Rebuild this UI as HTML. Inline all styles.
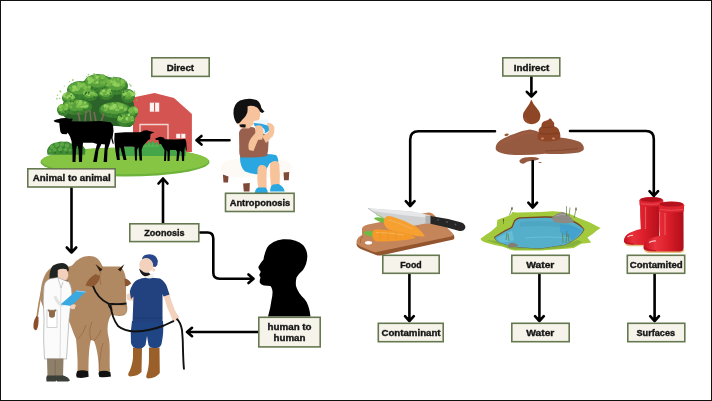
<!DOCTYPE html>
<html><head><meta charset="utf-8">
<style>
html,body{margin:0;padding:0;background:#fff;}
body{width:712px;height:401px;overflow:hidden;}
svg{display:block;will-change:transform;}
.bx{fill:#f6f3ea;stroke:#65784f;stroke-width:1.6;}
.lb{font-family:"Liberation Sans",sans-serif;font-weight:bold;font-size:9.9px;fill:#161616;stroke:#161616;stroke-width:0.4px;}
.ar{fill:none;stroke:#000;stroke-width:2.6;stroke-linecap:round;stroke-linejoin:round;}
</style></head><body>
<svg width="712" height="401" viewBox="0 0 712 401">
<rect x="0.5" y="0.5" width="711" height="400" fill="#fff" stroke="#111" stroke-width="1"/>

<!-- ILLUSTRATIONS -->
<g id="ill">
<g id="farm">
  <!-- barn -->
  <path d="M133 152V97.6L154.5 93.1L174 98L191.9 114.1V152Z" fill="#d45451"/>
  
  <rect x="149.8" y="102.7" width="9.4" height="9" fill="#fbf3f0"/>
  <rect x="154" y="102.7" width="1.1" height="9" fill="#d45451"/>
  <path d="M140 140V124.5H168V140" fill="none" stroke="#f2d6cf" stroke-width="1.3"/>
  <rect x="176.2" y="133.8" width="9.2" height="4.5" fill="#fbf3f0"/>
  <rect x="180.3" y="133.8" width="1" height="4.5" fill="#d45451"/>
  <!-- ground -->
  <ellipse cx="125" cy="162" rx="84.5" ry="14.5" fill="#6db23a"/>
  <ellipse cx="125" cy="161" rx="83.5" ry="13.2" fill="#86c443"/>
  <!-- bush left -->
  <path d="M47.5 154.8Q46 149 49.5 146Q52 142.5 57 142.5Q60 140.8 64 141.8Q68 140.5 71 143.5Q76 143 80 145Q84.5 146 85.5 150L85 154.8Z" fill="#3f8a34"/>
  <g fill="#5aa544">
    <circle cx="52" cy="147" r="2.2"/><circle cx="57" cy="145" r="2.4"/><circle cx="62" cy="144.5" r="2.2"/><circle cx="67" cy="145.5" r="2.3"/>
    <circle cx="54.5" cy="150" r="2"/><circle cx="60" cy="149" r="2.2"/><circle cx="65.5" cy="149.5" r="2"/><circle cx="70" cy="150" r="1.6"/><circle cx="50" cy="151" r="1.6"/>
  </g>
  <g fill="#2f6d29"><circle cx="55" cy="152.5" r="1"/><circle cx="61" cy="152" r="1.1"/><circle cx="67" cy="152.5" r="1"/><circle cx="58" cy="147.5" r="0.8"/><circle cx="64" cy="147" r="0.8"/></g>
  <!-- back grass strip -->
  <path d="M116 156V148Q124 146.5 132 147L138 146L141 143L143 145.5L145 141.5L147 144L149 140.8L151 143.5L153 140.5L155 143.5L157 141.5L158.5 145L161 143.5L163 146L172 146.5L186 146V156Z" fill="#44a549"/>
  <path d="M141 147L145 142.5L147 146L149 142L151 146L153 142L155 146L157 143L159 147Z" fill="#58b455" opacity="0.8"/>
  <!-- tree shadow under canopy -->
  <path d="M70 122L72 110L128 110L129 126L112 126Z" fill="#3f6b3a"/>
  <!-- tree canopy -->
<path d="M62 113Q61 104 67 96Q73 87 82 82Q92 76 100 76Q112 76 120 82Q129 89 132 98Q136 108 135 119Q134 126 129 127L116 126L103 122L75 121Q64 120 62 113Z" fill="#2c6328"/>
<ellipse cx="80" cy="90" rx="13" ry="9" fill="#3c8430"/>
<ellipse cx="98" cy="83" rx="14" ry="9" fill="#3c8430"/>
<ellipse cx="116" cy="86" rx="12" ry="9" fill="#3c8430"/>
<ellipse cx="69" cy="98" rx="7" ry="6" fill="#3c8430"/>
<ellipse cx="128" cy="96" rx="7" ry="7" fill="#3c8430"/>
<ellipse cx="90" cy="95" rx="8" ry="6" fill="#3c8430"/>
<ellipse cx="106" cy="94" rx="8" ry="6" fill="#3c8430"/>
<ellipse cx="77" cy="107" rx="15" ry="8" fill="#3c8430"/>
<ellipse cx="63" cy="110" rx="6" ry="6" fill="#3c8430"/>
<ellipse cx="115" cy="110" rx="16" ry="8" fill="#3c8430"/>
<ellipse cx="126" cy="120" rx="9" ry="7" fill="#3c8430"/>
<ellipse cx="133" cy="112" rx="5" ry="6" fill="#3c8430"/>
<ellipse cx="79.3" cy="88.0" rx="11.0" ry="6.5" fill="#58a03b"/>
<ellipse cx="97.3" cy="81.0" rx="11.9" ry="6.5" fill="#58a03b"/>
<ellipse cx="115.4" cy="84.0" rx="10.2" ry="6.5" fill="#58a03b"/>
<ellipse cx="68.7" cy="96.7" rx="6.0" ry="4.3" fill="#58a03b"/>
<ellipse cx="127.7" cy="94.5" rx="6.0" ry="5.0" fill="#58a03b"/>
<ellipse cx="89.6" cy="93.7" rx="6.8" ry="4.3" fill="#58a03b"/>
<ellipse cx="105.6" cy="92.7" rx="6.8" ry="4.3" fill="#58a03b"/>
<ellipse cx="76.2" cy="105.2" rx="12.8" ry="5.8" fill="#58a03b"/>
<ellipse cx="62.7" cy="108.7" rx="5.1" ry="4.3" fill="#58a03b"/>
<ellipse cx="114.2" cy="108.2" rx="13.6" ry="5.8" fill="#58a03b"/>
<ellipse cx="125.5" cy="118.5" rx="7.6" ry="5.0" fill="#58a03b"/>
<ellipse cx="132.8" cy="110.7" rx="4.2" ry="4.3" fill="#58a03b"/>
<circle cx="78.8" cy="84.7" r="2.0" fill="#6aae42"/>
<circle cx="78.6" cy="83.4" r="1.2" fill="#95d462"/>
<circle cx="79.4" cy="84.4" r="1.2" fill="#6aae42"/>
<circle cx="78.2" cy="88.2" r="1.9" fill="#7fc24f"/>
<circle cx="81.9" cy="85.7" r="1.5" fill="#95d462"/>
<circle cx="83.7" cy="84.9" r="1.9" fill="#7fc24f"/>
<circle cx="75.5" cy="89.4" r="1.3" fill="#7fc24f"/>
<circle cx="84.6" cy="87.4" r="1.7" fill="#8ccd58"/>
<circle cx="80.5" cy="84.2" r="1.5" fill="#7fc24f"/>
<circle cx="79.3" cy="86.2" r="2.1" fill="#7fc24f"/>
<circle cx="83.5" cy="86.8" r="1.3" fill="#74b848"/>
<circle cx="72.2" cy="89.5" r="1.1" fill="#7fc24f"/>
<circle cx="85.7" cy="87.9" r="2.1" fill="#7fc24f"/>
<circle cx="72.2" cy="85.7" r="1.1" fill="#6aae42"/>
<circle cx="86.5" cy="89.7" r="1.1" fill="#8ccd58"/>
<circle cx="84.1" cy="87.6" r="1.1" fill="#74b848"/>
<circle cx="73.3" cy="89.8" r="2.0" fill="#8ccd58"/>
<circle cx="77.6" cy="88.4" r="1.1" fill="#6aae42"/>
<circle cx="73.4" cy="87.1" r="1.5" fill="#8ccd58"/>
<circle cx="89.1" cy="89.7" r="1.5" fill="#6aae42"/>
<circle cx="73.7" cy="88.3" r="1.2" fill="#74b848"/>
<circle cx="89.3" cy="87.1" r="1.7" fill="#7fc24f"/>
<circle cx="74.8" cy="87.2" r="1.9" fill="#95d462"/>
<circle cx="70.2" cy="87.8" r="1.2" fill="#74b848"/>
<circle cx="71.9" cy="89.8" r="1.9" fill="#6aae42"/>
<circle cx="77.0" cy="89.5" r="1.6" fill="#8ccd58"/>
<circle cx="73.7" cy="89.8" r="1.7" fill="#8ccd58"/>
<circle cx="87.2" cy="89.4" r="1.6" fill="#6aae42"/>
<circle cx="94.3" cy="81.5" r="2.0" fill="#95d462"/>
<circle cx="94.5" cy="80.8" r="1.8" fill="#95d462"/>
<circle cx="89.1" cy="78.9" r="2.0" fill="#95d462"/>
<circle cx="95.6" cy="82.6" r="1.1" fill="#95d462"/>
<circle cx="103.4" cy="82.6" r="1.8" fill="#74b848"/>
<circle cx="95.4" cy="76.4" r="1.5" fill="#95d462"/>
<circle cx="89.9" cy="79.8" r="1.1" fill="#8ccd58"/>
<circle cx="97.4" cy="77.2" r="1.7" fill="#7fc24f"/>
<circle cx="91.2" cy="77.7" r="1.2" fill="#7fc24f"/>
<circle cx="91.0" cy="82.0" r="1.3" fill="#7fc24f"/>
<circle cx="92.2" cy="80.7" r="1.6" fill="#8ccd58"/>
<circle cx="94.0" cy="82.2" r="1.5" fill="#74b848"/>
<circle cx="102.4" cy="77.7" r="1.6" fill="#8ccd58"/>
<circle cx="101.0" cy="76.4" r="1.5" fill="#74b848"/>
<circle cx="104.5" cy="77.3" r="1.0" fill="#7fc24f"/>
<circle cx="97.5" cy="76.9" r="1.4" fill="#7fc24f"/>
<circle cx="90.0" cy="81.8" r="1.8" fill="#8ccd58"/>
<circle cx="106.5" cy="78.8" r="1.4" fill="#6aae42"/>
<circle cx="108.0" cy="80.9" r="1.5" fill="#7fc24f"/>
<circle cx="105.7" cy="80.7" r="1.7" fill="#6aae42"/>
<circle cx="97.5" cy="82.3" r="1.1" fill="#7fc24f"/>
<circle cx="102.7" cy="76.5" r="2.0" fill="#74b848"/>
<circle cx="94.7" cy="77.2" r="1.6" fill="#6aae42"/>
<circle cx="97.0" cy="77.7" r="1.6" fill="#95d462"/>
<circle cx="89.4" cy="82.5" r="1.5" fill="#8ccd58"/>
<circle cx="101.7" cy="82.7" r="1.9" fill="#6aae42"/>
<circle cx="97.2" cy="82.4" r="1.3" fill="#95d462"/>
<circle cx="94.3" cy="81.2" r="2.0" fill="#6aae42"/>
<circle cx="98.0" cy="79.5" r="1.4" fill="#74b848"/>
<circle cx="92.0" cy="80.2" r="1.9" fill="#8ccd58"/>
<circle cx="121.5" cy="84.4" r="1.6" fill="#74b848"/>
<circle cx="113.2" cy="84.4" r="1.4" fill="#7fc24f"/>
<circle cx="121.8" cy="80.5" r="1.3" fill="#8ccd58"/>
<circle cx="109.8" cy="84.3" r="2.0" fill="#6aae42"/>
<circle cx="113.5" cy="81.2" r="1.7" fill="#95d462"/>
<circle cx="115.6" cy="84.1" r="1.0" fill="#95d462"/>
<circle cx="108.0" cy="85.2" r="1.6" fill="#74b848"/>
<circle cx="119.3" cy="81.2" r="1.7" fill="#6aae42"/>
<circle cx="115.8" cy="84.9" r="1.9" fill="#8ccd58"/>
<circle cx="122.6" cy="81.9" r="2.1" fill="#7fc24f"/>
<circle cx="114.7" cy="80.4" r="1.7" fill="#74b848"/>
<circle cx="123.9" cy="85.2" r="1.2" fill="#6aae42"/>
<circle cx="110.4" cy="81.6" r="1.8" fill="#95d462"/>
<circle cx="118.5" cy="83.6" r="1.3" fill="#74b848"/>
<circle cx="117.2" cy="79.0" r="1.6" fill="#8ccd58"/>
<circle cx="113.2" cy="79.9" r="2.0" fill="#7fc24f"/>
<circle cx="113.5" cy="79.5" r="1.4" fill="#6aae42"/>
<circle cx="114.9" cy="80.4" r="2.0" fill="#6aae42"/>
<circle cx="117.2" cy="80.3" r="1.6" fill="#74b848"/>
<circle cx="115.1" cy="80.2" r="1.2" fill="#7fc24f"/>
<circle cx="108.9" cy="81.8" r="2.1" fill="#74b848"/>
<circle cx="117.0" cy="79.6" r="1.4" fill="#7fc24f"/>
<circle cx="114.7" cy="84.2" r="1.5" fill="#95d462"/>
<circle cx="114.8" cy="82.3" r="2.0" fill="#8ccd58"/>
<circle cx="118.0" cy="85.0" r="1.9" fill="#8ccd58"/>
<circle cx="116.8" cy="80.1" r="2.0" fill="#6aae42"/>
<circle cx="65.4" cy="96.4" r="1.8" fill="#6aae42"/>
<circle cx="72.9" cy="97.4" r="2.0" fill="#7fc24f"/>
<circle cx="71.7" cy="95.8" r="1.6" fill="#95d462"/>
<circle cx="70.7" cy="94.9" r="1.9" fill="#95d462"/>
<circle cx="65.8" cy="95.2" r="2.1" fill="#95d462"/>
<circle cx="64.9" cy="95.3" r="2.1" fill="#95d462"/>
<circle cx="66.4" cy="95.4" r="1.5" fill="#7fc24f"/>
<circle cx="69.0" cy="94.3" r="1.0" fill="#7fc24f"/>
<circle cx="69.2" cy="95.0" r="1.9" fill="#95d462"/>
<circle cx="67.4" cy="97.5" r="1.2" fill="#95d462"/>
<circle cx="68.3" cy="93.4" r="1.9" fill="#6aae42"/>
<circle cx="66.4" cy="95.5" r="1.1" fill="#6aae42"/>
<circle cx="133.2" cy="94.3" r="2.0" fill="#95d462"/>
<circle cx="126.7" cy="93.9" r="1.7" fill="#74b848"/>
<circle cx="123.5" cy="94.0" r="1.0" fill="#8ccd58"/>
<circle cx="127.5" cy="95.7" r="1.3" fill="#74b848"/>
<circle cx="125.2" cy="93.3" r="1.5" fill="#95d462"/>
<circle cx="124.3" cy="94.5" r="1.3" fill="#8ccd58"/>
<circle cx="131.1" cy="91.8" r="1.0" fill="#6aae42"/>
<circle cx="131.7" cy="93.7" r="1.6" fill="#95d462"/>
<circle cx="129.7" cy="92.3" r="1.9" fill="#95d462"/>
<circle cx="128.6" cy="94.0" r="2.0" fill="#74b848"/>
<circle cx="131.0" cy="95.1" r="1.3" fill="#8ccd58"/>
<circle cx="123.7" cy="92.5" r="2.0" fill="#8ccd58"/>
<circle cx="129.9" cy="95.3" r="1.1" fill="#6aae42"/>
<circle cx="84.4" cy="93.7" r="1.5" fill="#8ccd58"/>
<circle cx="85.9" cy="92.8" r="1.9" fill="#7fc24f"/>
<circle cx="85.7" cy="92.7" r="2.0" fill="#74b848"/>
<circle cx="85.7" cy="93.8" r="1.8" fill="#95d462"/>
<circle cx="95.8" cy="95.0" r="1.9" fill="#6aae42"/>
<circle cx="88.8" cy="94.7" r="1.6" fill="#95d462"/>
<circle cx="94.2" cy="94.0" r="1.2" fill="#7fc24f"/>
<circle cx="85.3" cy="92.4" r="2.1" fill="#7fc24f"/>
<circle cx="90.6" cy="93.3" r="1.7" fill="#7fc24f"/>
<circle cx="92.7" cy="93.2" r="1.5" fill="#95d462"/>
<circle cx="88.7" cy="93.0" r="1.4" fill="#7fc24f"/>
<circle cx="92.4" cy="94.0" r="1.5" fill="#74b848"/>
<circle cx="89.2" cy="93.0" r="1.2" fill="#95d462"/>
<circle cx="108.9" cy="92.3" r="1.1" fill="#6aae42"/>
<circle cx="106.6" cy="92.0" r="1.6" fill="#74b848"/>
<circle cx="108.7" cy="92.6" r="2.0" fill="#8ccd58"/>
<circle cx="109.4" cy="92.3" r="2.0" fill="#95d462"/>
<circle cx="109.2" cy="90.6" r="1.8" fill="#6aae42"/>
<circle cx="103.8" cy="92.8" r="1.9" fill="#74b848"/>
<circle cx="105.9" cy="93.5" r="1.4" fill="#95d462"/>
<circle cx="102.7" cy="93.6" r="2.1" fill="#74b848"/>
<circle cx="103.5" cy="90.6" r="1.6" fill="#95d462"/>
<circle cx="101.5" cy="93.2" r="1.5" fill="#8ccd58"/>
<circle cx="109.3" cy="90.6" r="2.1" fill="#7fc24f"/>
<circle cx="104.0" cy="93.4" r="1.3" fill="#6aae42"/>
<circle cx="105.6" cy="93.0" r="1.2" fill="#6aae42"/>
<circle cx="70.9" cy="106.9" r="1.3" fill="#74b848"/>
<circle cx="78.3" cy="102.5" r="2.1" fill="#95d462"/>
<circle cx="80.4" cy="106.1" r="1.5" fill="#7fc24f"/>
<circle cx="78.5" cy="101.8" r="2.1" fill="#6aae42"/>
<circle cx="81.7" cy="106.4" r="1.5" fill="#8ccd58"/>
<circle cx="84.9" cy="104.9" r="1.7" fill="#6aae42"/>
<circle cx="84.7" cy="106.3" r="1.6" fill="#95d462"/>
<circle cx="72.1" cy="103.1" r="1.5" fill="#74b848"/>
<circle cx="78.2" cy="103.7" r="1.8" fill="#74b848"/>
<circle cx="66.5" cy="106.5" r="1.6" fill="#8ccd58"/>
<circle cx="74.2" cy="101.9" r="1.1" fill="#74b848"/>
<circle cx="78.9" cy="106.0" r="2.1" fill="#74b848"/>
<circle cx="65.9" cy="105.6" r="1.5" fill="#6aae42"/>
<circle cx="69.6" cy="103.1" r="1.0" fill="#7fc24f"/>
<circle cx="87.0" cy="105.9" r="1.5" fill="#8ccd58"/>
<circle cx="78.3" cy="104.9" r="1.7" fill="#6aae42"/>
<circle cx="66.6" cy="104.8" r="1.4" fill="#8ccd58"/>
<circle cx="69.6" cy="105.4" r="1.7" fill="#6aae42"/>
<circle cx="80.0" cy="102.1" r="1.8" fill="#74b848"/>
<circle cx="83.7" cy="104.0" r="2.1" fill="#74b848"/>
<circle cx="80.9" cy="104.7" r="1.1" fill="#74b848"/>
<circle cx="84.4" cy="103.8" r="1.4" fill="#74b848"/>
<circle cx="80.5" cy="101.9" r="1.8" fill="#8ccd58"/>
<circle cx="81.2" cy="101.9" r="1.2" fill="#8ccd58"/>
<circle cx="77.1" cy="101.8" r="1.2" fill="#7fc24f"/>
<circle cx="77.5" cy="106.4" r="1.3" fill="#7fc24f"/>
<circle cx="78.5" cy="105.1" r="1.6" fill="#7fc24f"/>
<circle cx="85.3" cy="102.8" r="1.2" fill="#8ccd58"/>
<circle cx="79.9" cy="103.4" r="1.5" fill="#8ccd58"/>
<circle cx="61.4" cy="107.1" r="1.1" fill="#7fc24f"/>
<circle cx="65.6" cy="108.1" r="1.9" fill="#8ccd58"/>
<circle cx="62.3" cy="105.9" r="1.4" fill="#8ccd58"/>
<circle cx="61.4" cy="106.4" r="2.1" fill="#74b848"/>
<circle cx="60.4" cy="106.7" r="1.9" fill="#8ccd58"/>
<circle cx="62.3" cy="107.2" r="1.1" fill="#74b848"/>
<circle cx="61.7" cy="109.7" r="1.6" fill="#6aae42"/>
<circle cx="65.7" cy="108.2" r="1.9" fill="#7fc24f"/>
<circle cx="60.8" cy="109.5" r="1.7" fill="#7fc24f"/>
<circle cx="64.9" cy="107.2" r="1.8" fill="#74b848"/>
<circle cx="111.9" cy="108.1" r="1.4" fill="#74b848"/>
<circle cx="113.2" cy="108.0" r="1.8" fill="#95d462"/>
<circle cx="118.6" cy="104.2" r="1.8" fill="#74b848"/>
<circle cx="112.8" cy="104.4" r="1.3" fill="#74b848"/>
<circle cx="105.3" cy="106.0" r="1.8" fill="#95d462"/>
<circle cx="109.5" cy="107.3" r="1.4" fill="#74b848"/>
<circle cx="120.2" cy="105.8" r="1.9" fill="#95d462"/>
<circle cx="111.8" cy="106.3" r="1.2" fill="#95d462"/>
<circle cx="116.1" cy="107.4" r="1.8" fill="#74b848"/>
<circle cx="120.0" cy="108.3" r="1.1" fill="#8ccd58"/>
<circle cx="117.6" cy="103.8" r="1.7" fill="#6aae42"/>
<circle cx="105.7" cy="109.1" r="1.9" fill="#7fc24f"/>
<circle cx="111.7" cy="107.1" r="1.1" fill="#74b848"/>
<circle cx="105.2" cy="108.7" r="1.2" fill="#6aae42"/>
<circle cx="110.7" cy="107.9" r="1.8" fill="#95d462"/>
<circle cx="110.8" cy="106.2" r="1.4" fill="#74b848"/>
<circle cx="119.6" cy="106.1" r="1.6" fill="#7fc24f"/>
<circle cx="122.4" cy="105.1" r="1.5" fill="#74b848"/>
<circle cx="125.3" cy="107.4" r="1.9" fill="#6aae42"/>
<circle cx="125.2" cy="109.3" r="1.6" fill="#7fc24f"/>
<circle cx="121.8" cy="107.6" r="1.5" fill="#8ccd58"/>
<circle cx="111.3" cy="108.2" r="1.7" fill="#8ccd58"/>
<circle cx="110.7" cy="106.6" r="1.6" fill="#74b848"/>
<circle cx="118.1" cy="109.9" r="1.3" fill="#7fc24f"/>
<circle cx="112.1" cy="107.9" r="2.0" fill="#7fc24f"/>
<circle cx="116.2" cy="109.4" r="1.5" fill="#7fc24f"/>
<circle cx="111.8" cy="107.6" r="1.4" fill="#95d462"/>
<circle cx="107.0" cy="106.3" r="1.7" fill="#8ccd58"/>
<circle cx="112.8" cy="104.0" r="1.4" fill="#74b848"/>
<circle cx="119.8" cy="104.3" r="1.6" fill="#74b848"/>
<circle cx="114.6" cy="105.9" r="2.1" fill="#95d462"/>
<circle cx="127.6" cy="118.9" r="1.9" fill="#6aae42"/>
<circle cx="119.1" cy="119.2" r="1.9" fill="#6aae42"/>
<circle cx="132.4" cy="119.6" r="1.9" fill="#7fc24f"/>
<circle cx="127.7" cy="117.6" r="1.0" fill="#6aae42"/>
<circle cx="130.6" cy="118.9" r="1.3" fill="#6aae42"/>
<circle cx="126.9" cy="117.9" r="1.2" fill="#74b848"/>
<circle cx="119.8" cy="117.7" r="1.9" fill="#8ccd58"/>
<circle cx="129.0" cy="114.9" r="1.3" fill="#95d462"/>
<circle cx="120.6" cy="119.3" r="1.2" fill="#8ccd58"/>
<circle cx="131.6" cy="117.3" r="1.9" fill="#7fc24f"/>
<circle cx="123.5" cy="116.1" r="1.6" fill="#6aae42"/>
<circle cx="127.2" cy="118.7" r="1.8" fill="#95d462"/>
<circle cx="129.6" cy="118.7" r="1.9" fill="#6aae42"/>
<circle cx="121.1" cy="117.4" r="1.9" fill="#6aae42"/>
<circle cx="121.8" cy="117.5" r="1.6" fill="#8ccd58"/>
<circle cx="133.0" cy="119.1" r="1.3" fill="#6aae42"/>
<circle cx="130.9" cy="111.4" r="1.5" fill="#7fc24f"/>
<circle cx="131.6" cy="108.4" r="1.1" fill="#6aae42"/>
<circle cx="134.8" cy="108.5" r="1.9" fill="#7fc24f"/>
<circle cx="133.2" cy="111.5" r="1.4" fill="#6aae42"/>
<circle cx="130.8" cy="109.6" r="1.5" fill="#7fc24f"/>
<circle cx="136.3" cy="110.1" r="1.8" fill="#95d462"/>
<circle cx="130.2" cy="110.3" r="2.0" fill="#74b848"/>
<circle cx="136.4" cy="111.4" r="1.6" fill="#7fc24f"/>
<circle cx="131.8" cy="110.5" r="1.8" fill="#74b848"/>
<circle cx="83.9" cy="95.3" r="0.8" fill="#34752c"/>
<circle cx="76.7" cy="96.2" r="0.8" fill="#34752c"/>
<circle cx="88.7" cy="93.9" r="0.7" fill="#34752c"/>
<circle cx="77.4" cy="95.3" r="0.7" fill="#34752c"/>
<circle cx="88.8" cy="92.6" r="1.0" fill="#34752c"/>
<circle cx="86.2" cy="92.7" r="1.1" fill="#34752c"/>
<circle cx="81.8" cy="97.6" r="0.8" fill="#34752c"/>
<circle cx="71.3" cy="95.7" r="0.7" fill="#34752c"/>
<circle cx="85.3" cy="94.0" r="0.9" fill="#34752c"/>
<circle cx="98.6" cy="91.3" r="0.9" fill="#34752c"/>
<circle cx="92.0" cy="89.0" r="0.8" fill="#34752c"/>
<circle cx="92.0" cy="87.4" r="1.1" fill="#34752c"/>
<circle cx="97.3" cy="88.9" r="0.7" fill="#34752c"/>
<circle cx="102.7" cy="88.8" r="0.9" fill="#34752c"/>
<circle cx="104.5" cy="87.5" r="0.7" fill="#34752c"/>
<circle cx="107.8" cy="87.1" r="0.7" fill="#34752c"/>
<circle cx="97.1" cy="89.0" r="0.7" fill="#34752c"/>
<circle cx="95.1" cy="89.5" r="0.9" fill="#34752c"/>
<circle cx="123.6" cy="92.0" r="1.1" fill="#34752c"/>
<circle cx="110.5" cy="93.2" r="0.9" fill="#34752c"/>
<circle cx="125.1" cy="88.7" r="1.0" fill="#34752c"/>
<circle cx="123.0" cy="90.1" r="0.8" fill="#34752c"/>
<circle cx="118.9" cy="90.8" r="1.0" fill="#34752c"/>
<circle cx="122.0" cy="92.8" r="0.8" fill="#34752c"/>
<circle cx="111.8" cy="90.9" r="0.9" fill="#34752c"/>
<circle cx="115.2" cy="91.1" r="1.1" fill="#34752c"/>
<circle cx="73.4" cy="101.4" r="1.0" fill="#34752c"/>
<circle cx="70.7" cy="101.3" r="1.1" fill="#34752c"/>
<circle cx="74.5" cy="99.6" r="0.8" fill="#34752c"/>
<circle cx="66.1" cy="101.3" r="0.7" fill="#34752c"/>
<circle cx="126.5" cy="101.9" r="0.8" fill="#34752c"/>
<circle cx="129.5" cy="101.9" r="1.1" fill="#34752c"/>
<circle cx="124.0" cy="97.3" r="1.0" fill="#34752c"/>
<circle cx="123.1" cy="100.1" r="0.9" fill="#34752c"/>
<circle cx="87.6" cy="99.8" r="0.7" fill="#34752c"/>
<circle cx="91.0" cy="98.3" r="0.9" fill="#34752c"/>
<circle cx="94.7" cy="97.5" r="0.8" fill="#34752c"/>
<circle cx="94.1" cy="97.3" r="1.1" fill="#34752c"/>
<circle cx="96.2" cy="97.2" r="1.0" fill="#34752c"/>
<circle cx="102.2" cy="97.2" r="0.8" fill="#34752c"/>
<circle cx="110.6" cy="96.2" r="1.0" fill="#34752c"/>
<circle cx="100.7" cy="96.4" r="0.8" fill="#34752c"/>
<circle cx="109.8" cy="98.6" r="0.8" fill="#34752c"/>
<circle cx="100.4" cy="96.6" r="1.0" fill="#34752c"/>
<circle cx="84.3" cy="109.7" r="1.1" fill="#34752c"/>
<circle cx="81.7" cy="112.5" r="0.8" fill="#34752c"/>
<circle cx="89.7" cy="109.7" r="0.7" fill="#34752c"/>
<circle cx="73.9" cy="112.5" r="0.8" fill="#34752c"/>
<circle cx="82.6" cy="113.2" r="1.0" fill="#34752c"/>
<circle cx="69.1" cy="110.0" r="1.0" fill="#34752c"/>
<circle cx="85.1" cy="112.7" r="1.1" fill="#34752c"/>
<circle cx="77.5" cy="111.7" r="1.1" fill="#34752c"/>
<circle cx="75.6" cy="113.5" r="1.1" fill="#34752c"/>
<circle cx="65.4" cy="111.4" r="1.0" fill="#34752c"/>
<circle cx="59.6" cy="112.5" r="0.9" fill="#34752c"/>
<circle cx="62.4" cy="113.6" r="0.9" fill="#34752c"/>
<circle cx="63.7" cy="113.5" r="0.6" fill="#34752c"/>
<circle cx="62.8" cy="113.6" r="1.0" fill="#34752c"/>
<circle cx="112.8" cy="115.7" r="0.7" fill="#34752c"/>
<circle cx="110.1" cy="113.8" r="0.7" fill="#34752c"/>
<circle cx="116.7" cy="115.8" r="0.9" fill="#34752c"/>
<circle cx="125.4" cy="114.1" r="0.7" fill="#34752c"/>
<circle cx="120.5" cy="115.2" r="0.8" fill="#34752c"/>
<circle cx="119.2" cy="114.4" r="1.0" fill="#34752c"/>
<circle cx="105.8" cy="115.5" r="0.7" fill="#34752c"/>
<circle cx="104.6" cy="114.1" r="0.6" fill="#34752c"/>
<circle cx="121.4" cy="116.4" r="1.0" fill="#34752c"/>
<circle cx="127.1" cy="112.2" r="0.9" fill="#34752c"/>
<circle cx="113.2" cy="116.0" r="0.7" fill="#34752c"/>
<circle cx="118.3" cy="122.8" r="0.9" fill="#34752c"/>
<circle cx="129.7" cy="125.4" r="1.1" fill="#34752c"/>
<circle cx="129.5" cy="124.2" r="1.0" fill="#34752c"/>
<circle cx="129.4" cy="126.0" r="1.0" fill="#34752c"/>
<circle cx="127.2" cy="124.2" r="1.0" fill="#34752c"/>
<circle cx="132.1" cy="123.3" r="0.7" fill="#34752c"/>
<circle cx="131.0" cy="115.8" r="0.7" fill="#34752c"/>
<circle cx="135.4" cy="116.4" r="0.9" fill="#34752c"/>
<circle cx="136.1" cy="114.6" r="1.1" fill="#34752c"/>
<circle cx="134.7" cy="92.8" r="0.6" fill="#7dbf52" opacity="0.7"/>
<circle cx="118.0" cy="79.2" r="1.0" fill="#7dbf52" opacity="0.7"/>
<circle cx="57.5" cy="95.3" r="0.8" fill="#7dbf52" opacity="0.7"/>
<circle cx="102.6" cy="74.8" r="0.6" fill="#7dbf52" opacity="0.7"/>
<circle cx="136.7" cy="100.1" r="0.9" fill="#7dbf52" opacity="0.7"/>
<circle cx="57.0" cy="98.7" r="0.9" fill="#7dbf52" opacity="0.7"/>
<circle cx="113.6" cy="76.5" r="0.5" fill="#7dbf52" opacity="0.7"/>
<circle cx="134.0" cy="92.6" r="0.9" fill="#7dbf52" opacity="0.7"/>
<circle cx="135.7" cy="93.7" r="0.5" fill="#7dbf52" opacity="0.7"/>
<circle cx="72.8" cy="79.9" r="1.0" fill="#7dbf52" opacity="0.7"/>
<circle cx="125.9" cy="81.9" r="0.9" fill="#7dbf52" opacity="0.7"/>
<circle cx="60.7" cy="91.8" r="0.8" fill="#7dbf52" opacity="0.7"/>
<circle cx="69.7" cy="81.7" r="0.6" fill="#7dbf52" opacity="0.7"/>
<circle cx="103.7" cy="74.7" r="0.6" fill="#7dbf52" opacity="0.7"/>
<circle cx="64.3" cy="86.1" r="0.7" fill="#7dbf52" opacity="0.7"/>
<circle cx="134.6" cy="91.3" r="0.8" fill="#7dbf52" opacity="0.7"/>
<circle cx="130.8" cy="85.7" r="0.9" fill="#7dbf52" opacity="0.7"/>
<circle cx="59.7" cy="98.5" r="0.8" fill="#7dbf52" opacity="0.7"/>
<circle cx="108.1" cy="75.3" r="0.5" fill="#7dbf52" opacity="0.7"/>
<circle cx="88.5" cy="74.7" r="0.9" fill="#7dbf52" opacity="0.7"/>
<circle cx="129.7" cy="84.3" r="0.8" fill="#7dbf52" opacity="0.7"/>
<circle cx="99.3" cy="75.4" r="0.7" fill="#7dbf52" opacity="0.7"/>
<circle cx="117.3" cy="78.1" r="0.7" fill="#7dbf52" opacity="0.7"/>
<circle cx="93.8" cy="74.4" r="1.0" fill="#7dbf52" opacity="0.7"/>
<circle cx="60.3" cy="90.6" r="0.6" fill="#7dbf52" opacity="0.7"/>
<circle cx="125.9" cy="81.3" r="0.5" fill="#7dbf52" opacity="0.7"/>
<circle cx="86.8" cy="76.8" r="0.8" fill="#7dbf52" opacity="0.7"/>
<circle cx="94.3" cy="73.7" r="0.8" fill="#7dbf52" opacity="0.7"/>
<circle cx="124.4" cy="80.4" r="0.6" fill="#7dbf52" opacity="0.7"/>
<circle cx="59.4" cy="91.5" r="0.5" fill="#7dbf52" opacity="0.7"/>

  <!-- tree trunks -->
  <g stroke="#7d6b5d" stroke-width="1.5" fill="none">
    <path d="M80 121.5L78 112"/><path d="M85 121.5L86 111"/><path d="M91 121.5L90 110"/><path d="M96 121.5L94 112"/><path d="M101 122L104 113"/>
  </g>
  <!-- cows -->
  <g fill="#000">
    <!-- big cow facing left -->
    <path d="M53.5 120.7Q56 119.2 59 119L61 118.2L66 118L69 118.8L72.5 118.4L72.3 120.4L71 121.2L85 121.5L100 121L110.5 122.3L113 125L113.5 131L112.5 138L113.8 143.6L112.8 144L111 138L110 143L107.5 150L107 162H103.6L104.5 150L105 144.5L101.5 144L98.5 150L96.8 162H93.2L95 152L97 144L93 142.7L83 142.7L82.4 150L82 162H79L78.6 150L77.8 146L76.8 146L76 150L75.5 162H72.5L72.5 150L71.5 141L70 136.5L67.8 132.8L66.5 134.2L62 134.1L60.4 132L59.7 127L59.3 123L57 122.6Q54.5 122.3 53.5 120.7Z"/>
    <!-- middle cow facing right -->
    <path d="M114.6 133L114.3 140L115 147L115.6 152L117 160.1H119.8L119.2 152L119.6 147.5L120.5 148L123.6 160H126.5L124.5 150L124 146.8L134.5 146.8L135 160.5H136.9L137 150L138.5 147L139.7 160.5H142.1L141.6 150L143 146L146 142.5L148 140.3L150.1 139.3L150.5 134L154.4 132.2L150 131.3L147 130.3L143.5 130.5L142.1 131.5L140 132.2L125 132.3Z"/>
    <!-- small cow facing left -->
    <path d="M155.2 138.5L158 137.5L160 136.7L163.5 137.5L165 139.2L176 139.5L185.3 139.1L186.3 142L186.8 150.3L185.8 150.5L185.2 146L184.5 150L184.1 161H182L181.5 152L180 150.5L178.4 161H176.4L177 152L176 150L170 150L169.6 161H167.5L167.5 152L166.5 150L166 161H164L164.5 150L163 147.5L161 144L159.3 143.8L158.5 140L156 140Z"/>
  </g>
</g>
<g id="kid">
  <!-- stool top fuzzy -->
  <path d="M221 170Q220 164 226 161Q240 157.5 256 158.5Q276 158 289 162Q293 166 291 172Q286 177 272 177.5L240 177.5Q224 176.5 221 170Z" fill="#fdf9f5"/>
  <!-- stool legs -->
  <g fill="#7e4a37">
    <path d="M222.9 174.5L228.5 176.5L228 182.6H223.5Z"/>
    <path d="M243.1 183.5L249.8 183L249.5 191.6H243.8Z"/>
    <path d="M283.5 172.5L289.2 171.9L288.8 180.3H284Z"/>
  </g>
  <!-- shorts -->
  <path d="M240 156Q239.5 166 245 171.5Q252 174.5 259 174.2L266 170Q268 166 270 163L278 162.5Q279 158 276 155Q270 153.5 262 154L241 155Z" fill="#2aa7e0"/>
  <!-- legs -->
  <path d="M257.5 170Q256.5 180 258.5 190.4L266.7 190.4Q266.3 178 266.7 168Q265 164.5 261 165Q257.5 166 257.5 170Z" fill="#f7c39a"/>
  <path d="M270 165Q269.8 176 271 187L279.6 187Q280.3 175 279.3 164Q278 160.5 274.5 161Q270.5 161.5 270 165Z" fill="#f7c39a"/>
  <!-- shoes -->
  <path d="M254.9 193Q255.3 188 258.5 187.5L265.5 187.5Q267.8 189.5 267.8 193Z" fill="#2aa7e0"/>
  <path d="M270 191.6Q270.2 186 273 184.5L278.5 184Q284 186.5 284.7 191.6Z" fill="#2aa7e0"/>
  <!-- shirt -->
  <path d="M239 133Q239.5 128.5 244.5 127.5L252 127L262 130Q267.5 134 268.5 142Q268.5 150 267 156Q256 158 241 157.5Q238.8 155 239.3 148Z" fill="#98604d"/>
  <!-- arm crossing -->
  <path d="M249 150Q247 143 252 137L257.5 130.5L262 131.5L258 140Q255.5 146 253.5 151Z" fill="#f5c29a"/>
  <path d="M262 136Q266 134 270 130L273 133Q271 139 266 143Z" fill="#f5c29a"/>
  <!-- face -->
  <path d="M238.5 119L247 116.5L253 124.5L249 128.5L240 128.2Z" fill="#f6c39c"/>
  <path d="M246 106.5Q253 105 257.5 106.5Q260.2 109.5 260.2 115Q260 119.5 257.5 122.5Q253.5 125.5 249 125Q244.5 123.5 243 120Q243.5 117 245.5 115.5Q246.5 111 246 106.5Z" fill="#f6c39c"/>
  <circle cx="239.8" cy="121.8" r="3" fill="#f6c39c"/>
  <!-- hair -->
  <path d="M233.5 114Q233 104 240 100.5Q246 98.3 252 98.9Q257 99.5 259 102Q261 105 261.4 108Q263 110 264.5 111.6L262.3 113Q259.5 112 258.5 109Q257 106.5 253 106Q249.5 105.5 247.5 106.5Q247.8 110 247.3 112.5Q246 116 244 118Q242 119.5 240.8 121.5Q239.2 124 237 123.5Q234 120 233.5 114Z" fill="#111"/>
  <path d="M239.6 124.8Q242 123.6 245.7 124.6L245.5 127.5Q241.5 127.8 239.6 126.3Z" fill="#111"/>
  <!-- cup -->
  <path d="M253.5 121.2Q260 119 267 119.5Q270.5 122.5 271 127Q269.5 132 265.5 134.2L257 132Q253 127 253.5 121.2Z" fill="#eef7fb"/>
  <path d="M253.8 123Q261 123.3 268.6 125.8Q271 128.5 267.7 131.8L264.4 133.6Q266.3 129.2 262 127.2Q258 125.9 254.5 125.9Z" fill="#2aa5e0"/>
  <!-- hands -->
  <path d="M255.2 126Q259 124.2 262 126.2L263.5 131Q263.2 136 262.2 139.5L256.5 140Q254.8 133 255.2 126Z" fill="#f6c39c"/>
  <path d="M266.9 123.2Q272 122 274.3 127Q275 133 272 137.5L268 136Q270.5 130 266.9 123.2Z" fill="#f6c39c"/>
</g>
<g id="vet">
  <!-- cow tail -->
  <path d="M42 290Q39 302 37 318" stroke="#b08963" stroke-width="1.6" fill="none"/>
  <path d="M36.5 316Q33 321 33.5 328Q35 331 36.5 330Q39 326 38.5 317Z" fill="#8b4e2a"/>
  <!-- cow body -->
  <path d="M40.5 300C40 287 43 273 51 268C55 264 60 263.5 64 265C68 267 71 267 73.5 264C77 259.5 83 256 89 256C95 255.8 99.5 258.5 102.5 266.5L120 266.5C123.5 269 125.5 274 126 280C126.3 288 125.8 298 126.5 304C128 308 127.8 313 124 315.3C120 316.5 115 316 112 314.5L110.5 316C107.5 322 106.8 329 108.5 337C110.8 346 109 360 110 371L99 371C98.8 360 97 348 94 341L91 340C89 346 88.5 358 88.5 371L77.5 371C78 360 77 349 76 339C72.5 331 70 322 67 318L45 312Z" fill="#b08963"/>
  <!-- cow shading lines -->
  <g stroke="#8d5c37" stroke-width="0.7" fill="none" opacity="0.8">
    <path d="M91 340Q88 330 92 322"/><path d="M94 341Q99 336 101 330"/>
    <path d="M78 339Q84 333 86 325"/><path d="M99 371Q100 352 103 343"/>
    <path d="M102.5 266.5Q98 275 101 285"/>
  </g>
  <!-- ear left dark -->
  <path d="M85.5 285.5Q87.5 278.5 95.5 274L100 276Q99.5 283 92.5 287Z" fill="#8e5a33"/>
  <path d="M124.5 278.5Q129 279 131.2 283.5Q128.5 286.3 125 286.2Z" fill="#8b5530"/>
  <!-- horns -->
  <path d="M95.5 264L102.5 269.5L99.8 271.5Z" fill="#2a1a10"/>
  <path d="M124.3 264.3L117.8 269.5L120.5 271.5Z" fill="#2a1a10"/>
  <!-- hooves -->
  <path d="M77.3 371Q82.5 369.3 88.3 371.3L88.6 376.8Q82.5 378.6 77 377.6Q75.2 375 77.3 371Z" fill="#111"/>
  <path d="M99 371.3Q105 369.8 110.2 371.8L111 376.6Q105 377.6 99.4 377Q97.8 374.5 99 371.3Z" fill="#111"/>
  <!-- halter -->
  <path d="M93 286Q97 298 108.5 303.7Q118 304.6 126.5 303.5" stroke="#141414" stroke-width="1.9" fill="none"/>
  <path d="M108.5 303.7Q109 308 112.5 310" stroke="#141414" stroke-width="1.5" fill="none"/>
  <path d="M113 306Q119 305.5 125.5 306.5Q127 310 125 313.5Q120 316 114 314.5Q111.5 312 113 306Z" fill="#bd9672"/>
  <!-- vet: hair back -->
  <path d="M49.6 281Q48.8 270 53 265.5Q58 262.3 64 263.2Q68.5 264.5 68.9 270L67.5 272.5Q63 268.5 58.5 270L57.8 276.5Q55.5 280.5 52 283Z" fill="#1f2321"/>
  <!-- vet face -->
  <path d="M57.8 270Q62 267.8 66.5 269.2Q68.8 272 68.3 276L66.8 279.5Q62 281.2 58.6 279.8Q57.2 276 57.8 270Z" fill="#f2d0bc"/>
  <path d="M64 281L68 280.5L69 290L63 287Z" fill="#6b5544"/>
  <!-- lab coat -->
  <path d="M44 286Q45 280 51 278.5L58 277.5L63.5 280L69 282Q72 287 72 296L71 302L69 320L66.5 359H44.5Q43 340 44 318Q42.5 300 44 286Z" fill="#fbfbfb" stroke="#9a9a9a" stroke-width="0.6"/>
  <path d="M58 278L61 288L63 282" stroke="#9a9a9a" stroke-width="0.5" fill="none"/>
  <path d="M61 288L60 358" stroke="#bbb" stroke-width="0.5" fill="none"/>
  <!-- pocket with bear -->
  <rect x="47" y="310" width="10" height="17.5" fill="#fff" stroke="#a8a8a8" stroke-width="0.5"/>
  <path d="M48.8 311Q52 309 55.2 311L54.8 316.5Q52 319 49.2 316.5Z" fill="#8e6a4d"/>
  <circle cx="48.9" cy="310.5" r="1.1" fill="#8e6a4d"/><circle cx="55.1" cy="310.5" r="1.1" fill="#8e6a4d"/>
  <!-- arm holding pen -->
  <path d="M55 296Q57 303 62 305L66 302" stroke="#e4e4e4" stroke-width="3" fill="none"/>
  <!-- clipboard -->
  <path d="M60.5 304.5L76.5 290.5L86 291.5L71.5 306Z" fill="#3aa9e1"/>
  <path d="M76 291L85.5 292" stroke="#9fd6f2" stroke-width="0.8"/>
  <!-- hand -->
  <path d="M70 306Q73 303 76 305L74.5 309Q71.5 309.5 70 308Z" fill="#f2d0bc"/>
  <!-- pants -->
  <path d="M47 358.5H63.5L63 376.5H47.5Z" fill="#8e7f69"/>
  <path d="M55.2 360V376" stroke="#6f6250" stroke-width="0.6"/>
  <!-- shoes -->
  <path d="M47 375.5H56L57.5 378.5Q57 381.5 55 381.5H46.5Q45.5 378 47 375.5Z" fill="#3a3f38"/>
  <path d="M56 375.5H63.5Q68.5 377 70 380.5L68 381.5H57Z" fill="#3a3f38"/>
  <!-- handler -->
  <!-- boots -->
  <path d="M133 347.5H142L141.5 372Q138 376 130 376.5Q127.5 376 128.5 373Q132 367 133 358Z" fill="#9b5f2a"/>
  <path d="M149 347.5H159.5L159.8 373Q156 378 148 378.5Q145.5 378 146.5 375Q149 368 149 358Z" fill="#9b5f2a"/>
  <!-- pants -->
  <path d="M132 321H163Q164 333 161.5 344Q160 348.5 155 348Q150 348.5 148.5 345L147 336L145.5 345Q143.5 348.5 138 348.5Q132 348 131 343Q130 332 132 321Z" fill="#1f4585"/>
  <!-- arms -->
  <path d="M126.5 294.5Q130 292.5 134 292.5L134.5 300.5Q130 301.5 127 299.5Z" fill="#f2d2bd"/>
  <path d="M162.5 292.5L168.8 292Q171.5 302 175 310.5L178.5 316.5Q177 321.5 172.8 320.5L167 307Z" fill="#f2d2bd"/>
  <ellipse cx="175.5" cy="317.6" rx="3.2" ry="3.4" fill="#f2d2bd"/>
  <!-- shirt -->
  <path d="M137 280Q142 277 150 277.5L160 278.5Q165.5 282 167 287L169.5 294.5L163.5 296.5L162.5 294L162.5 322.5H132.5L133.5 296.5L131 299L129.8 291.5Q132 283 137 280Z" fill="#21427f"/>
  <path d="M133 318H162.5" stroke="#19366c" stroke-width="0.6"/>
  <!-- neck/collar -->
  <path d="M145.5 274.5L153.5 273.5L153.5 277.5Q150 279 146 278Z" fill="#f3efe9"/>
  <path d="M152 268Q155 267.5 155.5 270.5L153 272Z" fill="#f2d2bd"/>
  <!-- cap (behind face) -->
  <path d="M142 259Q142.5 254.5 149.5 254.3Q156.5 254.5 157.9 261Q158 265 155.5 267L150 266Z" fill="#27478a"/>
  <!-- face -->
  <ellipse cx="146.2" cy="265.2" rx="7" ry="7.3" transform="rotate(-15 146.2 265.2)" fill="#f2d2bd"/>
  <!-- beard -->
  <path d="M139.2 268.5Q140 274 144.5 276.3Q148 276.5 150.5 274.3L148.5 272.5Q144.5 273.5 141.5 270.5Z" fill="#1f1a1a"/>
  <!-- lead rope -->
  <path d="M110.5 305Q112 318 118 326Q124 331 135 331.5Q150 331 164 325.5L174 320.8" stroke="#111" stroke-width="1.9" fill="none"/>
  <path d="M176.6 318.7Q180.5 322 182 330Q183 340 183 350Q183.3 362 184 369.5" stroke="#111" stroke-width="1.9" fill="none"/>
</g>
<g id="head">
  <path d="M268 316.5Q270.5 308 271.5 300Q273 294 272.3 290Q271.5 287 270.5 286L264 285.5Q261 285 259.8 282.7Q259.5 280 260.5 277.5Q259 276 259.5 274.2Q260.5 273 260.6 271.5Q258.5 269 258.3 267Q260 263.5 263.5 259.5Q264.2 254 267 247.7Q272 240.5 283 239.2Q296 238.5 303 245Q307.5 250 307.3 257Q307 264 303 270Q298.5 274 296.5 277.4Q295.5 282 296 286Q298 293 304.5 299Q309 304 310.5 316.5Z" fill="#000"/>
</g>
<g id="food">
  <!-- board edge (thickness) -->
  <path d="M356.5 243Q356 247 362 249.5L376 255Q379 256 383 255L453.5 239.5Q455 238 454 235.5L453 234L376 251Z" fill="#93552e"/>
  <!-- board top -->
  <path d="M362 228.5Q363 225.5 368 224.5L428 212.5Q431 212 433 214L452.5 233Q454 235.5 451 236.5L377 252Q373.5 252.5 371 251L363 247.5Q356 245 356.5 241Q357.5 237 362 235Z" fill="#c4855a"/>
  <path d="M363 236Q359 240 360.5 243" stroke="#a2623a" stroke-width="0.8" fill="none"/>
  <!-- hole -->
  <ellipse cx="368.5" cy="242.7" rx="3.6" ry="1.8" fill="#fff"/>
  <!-- knife blade -->
  <path d="M367.8 208.2L412 211.4L430 215.5L430.5 223L425.5 223.6Q412 226 406 228Q392 222 384.5 219.5Z" fill="#cfd0d1"/>
  <path d="M367.8 208.2L412 211.4L430 215.5L430 218Q400 215 372 211Z" fill="#e6e7e8"/>
  <path d="M367.8 208.2L384.5 219.5" stroke="#9a9b9c" stroke-width="0.6"/>
  <!-- bolster -->
  <path d="M425.5 215.5L431 216L431 223.5L425.5 223.6Z" fill="#b0b1b3"/>
  <!-- handle -->
  <path d="M430.5 216Q446 218 461.5 222.5Q466 224.5 465.3 228Q464 231.5 459.5 231Q446 227 430.5 223.8Z" fill="#262626"/>
  <g fill="#555"><circle cx="438" cy="219.8" r="0.9"/><circle cx="447" cy="222" r="0.9"/><circle cx="455.5" cy="224.5" r="0.9"/></g>
  <!-- greens -->
  <path d="M374 218Q378 216 386 219L385 223Q379 222 375 219.5Z" fill="#6dbb45"/>
  <path d="M376 214.5Q381 216 386 219.5" stroke="#8fd46a" stroke-width="0.8" fill="none"/>
  <path d="M363.5 232Q368 230 374 232L373.5 236.5Q368 236.5 364 234Z" fill="#6dbb45"/>
  <!-- carrot upper -->
  <path d="M384 220Q385.5 214.5 392 216.5Q404 220 415.5 226.5Q422.5 231.5 424.8 236.4Q418 237 409.5 234.8Q397 232 388.5 229.5Q383 226 384 220Z" fill="#f5a030"/>
  <path d="M388 220Q398 222 412 229" stroke="#f8b75a" stroke-width="1" fill="none" opacity="0.8"/>
  <!-- carrot lower -->
  <path d="M372.3 233Q372.8 229 378 229.2Q392 230 404 232.5Q412 234.8 416 237.9Q408 240 398 240.7Q386 242 376 241.2Q371.8 239.5 372.3 233Z" fill="#f39a2a"/>
  <path d="M376 232.5Q390 232.5 404 235" stroke="#f8b75a" stroke-width="1" fill="none" opacity="0.8"/>
  <path d="M380 231V239M388 231V240M396 232V239" stroke="#d67a1e" stroke-width="0.4" opacity="0.7"/>
</g>
<g id="pond">
  <!-- grass -->
  <path d="M480.5 238.7Q487 234 490.5 231.8Q495 228 496.7 226.2L497.3 220Q501 218 504.2 217.5Q508 216 511 214.4L512.3 211.9Q516 212.5 519.2 212.5Q530 212 540 211.9L552.5 211.2Q562 211 571.2 214.4L577.4 217.5Q584 220 589.9 222.5L600.5 228.1Q596 231 592.4 234.3L587.4 237.4L591.2 242.4Q586 243 581.2 243.7L573.7 248Q566 249 558.7 249.3L540 250.5L514.2 250.5Q508 249 503 246.8Q494 245 485.5 242.4Q481 241 480.5 238.7Z" fill="#a3ca3c"/>
  <path d="M486 240Q494 243 503 245.5Q510 248.5 515 249.5L540 249.5L558 248.5Q566 247.5 573 246.5L582 242L578 240L566 244L540 247.5L518 246.5Q506 243 498 241Z" fill="#84b23a"/>
  <!-- water rim -->
  <path d="M494 237Q500 233 505 230Q510 228 511.7 226.3L514 220.5Q516.5 217.5 519.2 217.3L545 216.3Q560 216 572 220Q580 223 584.5 229.3Q582 235 577.4 238Q572 242 565 245L540 248.7L518 247.5Q507 245.5 499.2 242.4Q494.5 240 494 237Z" fill="#7a4a22"/>
  <!-- water -->
  <path d="M495 237.5Q500 234.5 505 231.5Q510.5 229 512.5 227.5L515 221.5Q517 219 520 218.6L545 217.8Q559 217.6 571 221.2Q579 224.5 583.7 229.6Q581.5 235 577 238Q571 242 565 244.7L540 248.5L518 247.3Q507 245.5 499.5 242.5Q495.5 240.5 495 237.5Z" fill="#55afcb"/>
  <path d="M497 238Q505 234 512 231L514 240Q508 243 500 242Z" fill="#6ac0db" opacity="0.8"/>
  <path d="M520 222Q545 219 570 224Q578 228 580 231Q560 226 540 226Q528 226 520 227Z" fill="#4aa0bd" opacity="0.6"/>
  <path d="M560 224Q575 226 582 230Q579 236 572 240Q566 236 560 232Z" fill="#3f9dcf" opacity="0.7"/>
  <path d="M525 238Q545 236 570 238" stroke="#70c4dc" stroke-width="1.2" fill="none" opacity="0.7"/>
  <!-- rocks -->
  <path d="M551.9 218Q555 213.5 562.5 211.9Q567 213 569 216Q573 218 573.7 222.5Q565 224 556 222.5Q552 221 551.9 218Z" fill="#8e8a86"/>
  <path d="M556 216Q561 213.5 566 215" stroke="#a8a4a0" stroke-width="1" fill="none"/>
  <path d="M507.9 245.5Q509 242.5 513 242.9Q517 243 517.9 246Q514 248 508.5 247.5Z" fill="#857d74"/>
  <!-- reeds -->
  <g stroke="#5a7d3a" stroke-width="0.7" fill="none">
    <path d="M566.5 216V206.2"/><path d="M569 216L570 207.5"/><path d="M574 218L576.2 209"/>
    <path d="M509.5 215L512 208"/><path d="M503.5 224V219.5"/>
    <path d="M563 243L562.5 233"/><path d="M566 243L567 231"/><path d="M569 242L568 234"/>
    <path d="M506 240L507 233"/><path d="M509 241L508 234"/>
  </g>
  <g fill="#6f5a3a"><ellipse cx="576" cy="209" rx="0.7" ry="1.8"/><ellipse cx="512" cy="208.5" rx="0.7" ry="1.8"/><ellipse cx="503.5" cy="220" rx="0.6" ry="1.6"/></g>
</g>
<g id="poop">
  <!-- drop -->
  <path d="M531.3 99.4Q533 104 537.5 109Q540.8 113 540.4 116.5Q539.8 123.5 531.5 124.2Q523.5 123.8 522.9 116.5Q522.8 112.5 526 108.8Q529.8 104 531.3 99.4Z" fill="#8e4726"/>
  <path d="M525 118Q525.5 121 528.5 122.5" stroke="#a85a35" stroke-width="0.7" fill="none"/>
  <!-- puddle -->
  <path d="M496 150Q494.5 145 500 140.5Q506 136.5 514 134Q522 130 530 129.5Q536 130 541 133L560 137.5Q572 138.5 580 142Q585 146 583.5 150Q581 153 570 153.5Q556 154.5 545 153.8Q530 155.5 515 155Q500 154.5 496 150Z" fill="#955a40"/>
  <path d="M500 145Q508 139 518 135.5Q527 132.5 534 132.5" stroke="#a65e42" stroke-width="1.5" fill="none" opacity="0.7"/>
  <path d="M545 151Q562 150.5 578 148.5" stroke="#7e412a" stroke-width="1" fill="none" opacity="0.7"/>
  <!-- splashes -->
  <path d="M504.5 134.5Q506.5 132.8 509 134Q508.5 136 506 136.2Q504 136 504.5 134.5Z" fill="#955a40"/>
  <path d="M519.2 161Q521 157.5 528 157.2Q536 156.8 539.4 158.5Q538 160.5 532 160.7Q527 161 524 163.5Q520.5 164.5 519.2 161Z" fill="#955a40"/>
  <path d="M538 162.5Q540 161.5 542 162.5Q540.5 163.5 538 162.5Z" fill="#955a40"/>
  <!-- poop pile -->
  <path d="M538 139.5Q536.8 134.5 539 133Q537.5 128.5 541.5 126.5Q541 122 545 121Q548.5 120.2 550 118.2Q551.5 119 552.5 121Q555 123 554 126.3Q558.5 127.5 559.2 131Q561 134 560 139Q556 141.5 549 141.2Q541 141.5 538 139.5Z" fill="#8f4727"/>
  <path d="M539.5 133.3Q549 135 559.5 133M541.5 126.8Q548 128.5 554.2 126.5" stroke="#6f3419" stroke-width="0.7" fill="none" opacity="0.8"/>
  <ellipse cx="542.5" cy="138.5" rx="1.4" ry="0.9" fill="#d08a6a"/>
  <ellipse cx="553.5" cy="138.5" rx="1.4" ry="0.9" fill="#d08a6a"/>
</g>
<g id="boots">
  <defs>
    <linearGradient id="bg1" x1="0" x2="1" y1="0" y2="0">
      <stop offset="0" stop-color="#c8121f"/><stop offset="0.25" stop-color="#e8303a"/><stop offset="0.55" stop-color="#dc1f2b"/><stop offset="1" stop-color="#b50f1b"/>
    </linearGradient>
    <linearGradient id="bg2" x1="0" x2="1" y1="0" y2="0">
      <stop offset="0" stop-color="#c8121f"/><stop offset="0.3" stop-color="#ea343e"/><stop offset="0.6" stop-color="#dc1f2b"/><stop offset="1" stop-color="#b00e1a"/>
    </linearGradient>
  </defs>
  <!-- left boot sole -->
  <path d="M624.5 242.5Q625 246 630 246.2H652L654 243Z" fill="#e2c07e"/>
  <!-- left boot -->
  <path d="M640 204Q640 218 640.8 229Q632 231 627 234.5Q623.3 238 624 242Q625.5 244.5 631 244.8L652 245L659 242L659.5 204Z" fill="url(#bg1)"/>
  <path d="M624.5 241.5Q628 244 634 244.3" stroke="#a80f1a" stroke-width="0.8" fill="none"/>
  <path d="M645.5 207V229" stroke="#f07a82" stroke-width="1.2" opacity="0.6"/>
  <path d="M627.5 237Q630 235 633 235.5" stroke="#fbd0d4" stroke-width="1.1" fill="none" opacity="0.9"/>
  <!-- left boot rim -->
  <path d="M639.3 200.5Q639.5 197 651.3 196.9Q663.3 197 663.4 200.8L663 205.3Q651 207.6 639.6 205.6Z" fill="#dd2430"/>
  <ellipse cx="651.3" cy="199.6" rx="10.8" ry="2.3" fill="#b3111d"/>
  <path d="M641 203.8Q651 205.2 662 203.6" stroke="#f06a72" stroke-width="0.8" fill="none" opacity="0.7"/>
  <!-- right boot sole -->
  <path d="M643.8 248.5Q644 252.8 650 253H680Q684 252.5 684.5 249.5Z" fill="#e2c07e"/>
  <!-- right boot -->
  <path d="M659.5 210Q659 225 659.8 235.7Q650 237.5 646.3 241Q643 244.5 643.5 248.5Q645 251.3 651 251.4L680 251.5Q683.5 251 683.6 248L683.5 210Z" fill="url(#bg2)"/>
  <path d="M644 247.5Q648 250.5 656 250.8" stroke="#a80f1a" stroke-width="0.8" fill="none"/>
  <path d="M665 213V235" stroke="#f07a82" stroke-width="1.2" opacity="0.6"/>
  <path d="M675 213V248" stroke="#c5141f" stroke-width="0.8" opacity="0.7"/>
  <path d="M649 242.5Q652.5 240.5 656 241" stroke="#fbd0d4" stroke-width="1.2" fill="none" opacity="0.9"/>
  <!-- right boot rim -->
  <path d="M658.6 205Q658.8 201.6 671.4 201.5Q684.1 201.6 684.2 205.3L683.8 211.2Q671 213.8 658.8 211.5Z" fill="#dd2430"/>
  <ellipse cx="671.4" cy="204.2" rx="11.8" ry="2.4" fill="#b3111d"/>
  <path d="M660 209.6Q671 211.3 683 209.5" stroke="#f06a72" stroke-width="0.8" fill="none" opacity="0.7"/>
</g>

</g>

<!-- ARROWS -->
<g class="ar">
  <!-- animal to animal down -->
  <path d="M71.5 188V252.5M66.8 247.5L71.5 252.5L76.2 247.5"/>
  <!-- kid to barn -->
  <path d="M229.5 140.3H196.5M201.5 136L196.5 140.3L201.5 144.6"/>
  <!-- zoonosis up -->
  <path d="M163 223V178.5M158.5 183.5L163 178.5L167.5 183.5"/>
  <!-- zoonosis to head -->
  <path d="M200 232.5H207.5Q213.3 232.5 213.3 238.5V272.5Q213.3 278.7 219.5 278.7H253.5M248.5 274.4L253.5 278.7L248.5 283"/>
  <!-- human to human to handler -->
  <path d="M258 332H187M192 327.8L187 332L192 336.2"/>
  <!-- indirect down -->
  <path d="M531.4 77V96.5M526.8 91.8L531.4 96.5L536 91.8"/>
  <!-- left branch -->
  <path d="M495 131.3H418.5Q410.2 131.3 410.2 139.5V206M405.8 201.2L410.2 206L414.6 201.2"/>
  <!-- right branch -->
  <path d="M570 131H646Q653.8 131 653.8 139V196M649.5 191.2L653.8 196L658.1 191.2"/>
  <!-- middle -->
  <path d="M532.7 161V207.5M528.3 202.7L532.7 207.5L537.1 202.7"/>
  <!-- lower arrows -->
  <path d="M409.4 274V321M405 316.2L409.4 321L413.8 316.2"/>
  <path d="M539.4 274V321M535 316.2L539.4 321L543.8 316.2"/>
  <path d="M654.6 274V321M650.2 316.2L654.6 321L659 316.2"/>
</g>

<!-- BOXES -->
<rect class="bx" x="151.8" y="57.8" width="57.4" height="18.6"/>
<text class="lb" x="180.4" y="70.7" text-anchor="middle" textLength="27.4" lengthAdjust="spacingAndGlyphs">Direct</text>

<rect class="bx" x="502.8" y="57.8" width="57" height="18.2"/>
<text class="lb" x="531.5" y="70.7" text-anchor="middle" textLength="35.5" lengthAdjust="spacingAndGlyphs">Indirect</text>

<rect class="bx" x="27.8" y="168.8" width="87.4" height="18.2"/>
<text class="lb" x="71.7" y="180.9" text-anchor="middle" textLength="77.8" lengthAdjust="spacingAndGlyphs">Animal to animal</text>

<rect class="bx" x="225.5" y="193.3" width="68.6" height="18.2"/>
<text class="lb" x="260" y="205.8" text-anchor="middle" textLength="60.6" lengthAdjust="spacingAndGlyphs">Antroponosis</text>

<rect class="bx" x="129.8" y="223.8" width="69" height="17.8"/>
<text class="lb" x="164.4" y="235.8" text-anchor="middle" textLength="40.1" lengthAdjust="spacingAndGlyphs">Zoonosis</text>

<rect class="bx" x="258.8" y="317.3" width="61.4" height="29.6"/>
<text class="lb" x="289.6" y="329.7" text-anchor="middle" textLength="44" lengthAdjust="spacingAndGlyphs">human to</text>
<text class="lb" x="289.5" y="341.2" text-anchor="middle" textLength="32" lengthAdjust="spacingAndGlyphs">human</text>

<rect class="bx" x="382.8" y="255.3" width="56.4" height="18"/>
<text class="lb" x="411" y="267.6" text-anchor="middle" textLength="21.5" lengthAdjust="spacingAndGlyphs">Food</text>

<rect class="bx" x="511.8" y="255.3" width="57.4" height="18"/>
<text class="lb" x="540.3" y="267.6" text-anchor="middle" textLength="28.1" lengthAdjust="spacingAndGlyphs">Water</text>

<rect class="bx" x="627.3" y="255.3" width="57.4" height="18"/>
<text class="lb" x="656.2" y="267.6" text-anchor="middle" textLength="53" lengthAdjust="spacingAndGlyphs">Contamited</text>

<rect class="bx" x="378.3" y="323.3" width="64.9" height="18.4"/>
<text class="lb" x="411" y="335.8" text-anchor="middle" textLength="59.2" lengthAdjust="spacingAndGlyphs">Contaminant</text>

<rect class="bx" x="511.8" y="323.3" width="57.4" height="18.4"/>
<text class="lb" x="540.3" y="335.8" text-anchor="middle" textLength="28.1" lengthAdjust="spacingAndGlyphs">Water</text>

<rect class="bx" x="627.8" y="323.3" width="57" height="18.4"/>
<text class="lb" x="655.8" y="335.8" text-anchor="middle" textLength="38.6" lengthAdjust="spacingAndGlyphs">Surfaces</text>

</svg>
</body></html>
